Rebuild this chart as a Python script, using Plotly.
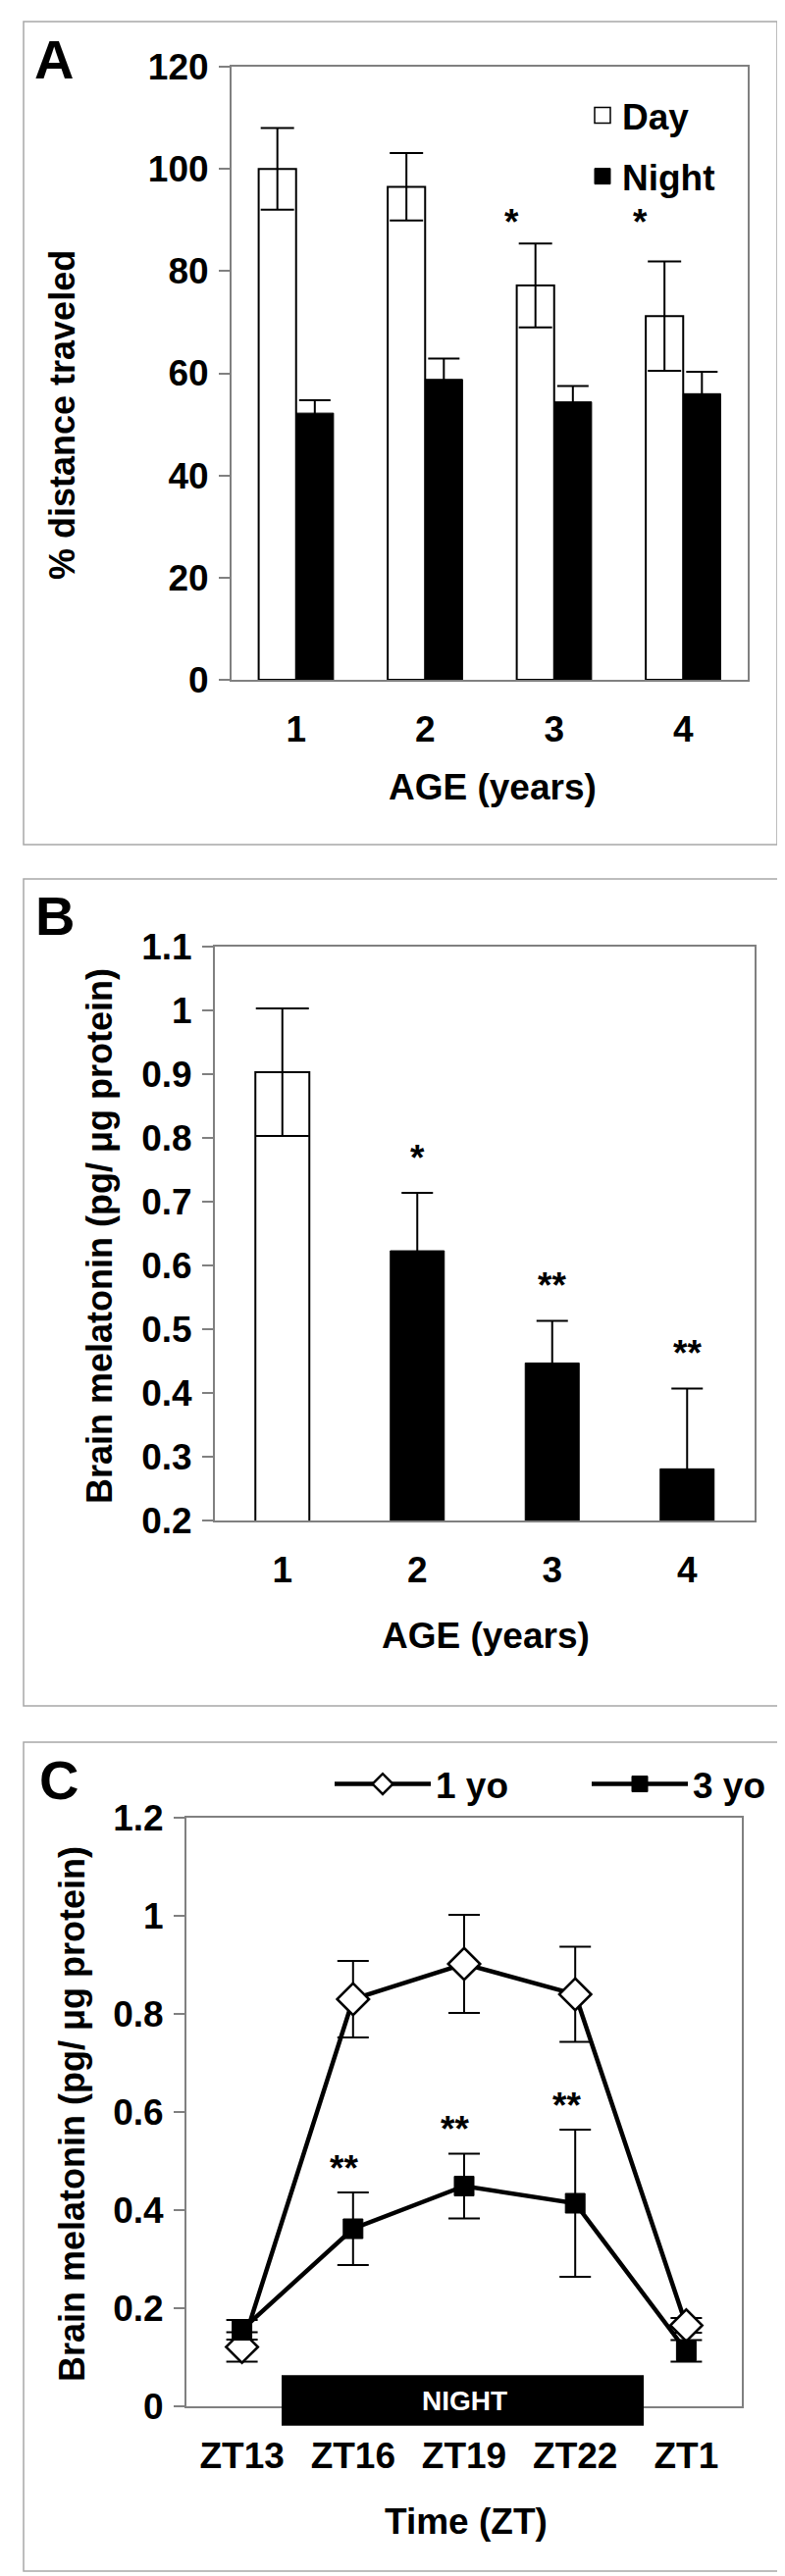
import plotly.graph_objects as go

# ---------------- data ----------------
# Panel A: % distance traveled by age
age_years = [1, 2, 3, 4]
day_dist = [100.0, 96.5, 77.2, 71.2]
day_err = [8.0, 6.6, 8.2, 10.7]
night_dist = [52.2, 58.8, 54.4, 56.0]
night_err = [2.5, 4.1, 3.1, 4.3]
day_sig = ["", "", "*", "*"]

# Panel B: brain melatonin by age
mel_age = [1, 2, 3, 4]
mel_vals = [0.903, 0.623, 0.447, 0.281]
mel_err = [0.100, 0.091, 0.066, 0.126]
mel_sig = ["", "*", "**", "**"]

# Panel C: brain melatonin across night (ZT)
zt_labels = ["ZT13", "ZT16", "ZT19", "ZT22", "ZT1"]
yo1_vals = [0.121, 0.830, 0.902, 0.840, 0.165]
yo1_err = [0.030, 0.078, 0.100, 0.097, 0.015]
yo3_vals = [0.156, 0.362, 0.449, 0.414, 0.113]
yo3_err = [0.020, 0.074, 0.066, 0.150, 0.022]
yo3_sig = ["", "**", "**", "**", ""]

# ---------------- layout helpers ----------------
W, H = 800, 2626
FONT = "Liberation Sans, Arial, Helvetica, sans-serif"


def fx(p):
    return p / W


def fy(p):
    return 1 - p / H


fig = go.Figure()

# ---------- Panel A ----------
fig.add_trace(go.Bar(
    x=age_years, y=day_dist, name="Day", showlegend=False,
    marker=dict(color="white", line=dict(color="black", width=2)),
    width=0.29, offset=-0.29,
    error_y=dict(type="data", array=day_err, color="black", thickness=2, width=17),
    xaxis="x", yaxis="y"))
fig.add_trace(go.Bar(
    x=age_years, y=night_dist, name="Night", showlegend=False,
    marker=dict(color="black", line=dict(color="black", width=1)),
    width=0.29, offset=0.0,
    error_y=dict(type="data", array=night_err, color="black", thickness=2, width=16),
    xaxis="x", yaxis="y"))
# legend entries for panel A (square swatches, no plotted marks)
fig.add_trace(go.Scatter(
    x=[None], y=[None], name="Day", mode="markers", legend="legend", legendgroup="day",
    marker=dict(symbol="square", size=16, color="white", line=dict(color="black", width=1.5)),
    xaxis="x", yaxis="y"))
fig.add_trace(go.Scatter(
    x=[None], y=[None], name="Night", mode="markers", legend="legend", legendgroup="night",
    marker=dict(symbol="square", size=16, color="black", line=dict(color="black", width=1)),
    xaxis="x", yaxis="y"))

# ---------- Panel B ----------
fig.add_trace(go.Bar(
    x=mel_age[:1], y=mel_vals[:1], showlegend=False,
    marker=dict(color="white", line=dict(color="black", width=2)),
    width=0.4, offset=-0.2,
    error_y=dict(type="data", array=mel_err[:1], color="black", thickness=2, width=27),
    xaxis="x2", yaxis="y2"))
fig.add_trace(go.Bar(
    x=mel_age[1:], y=mel_vals[1:], showlegend=False,
    marker=dict(color="black", line=dict(color="black", width=1)),
    width=0.4, offset=-0.2,
    error_y=dict(type="data", array=mel_err[1:], color="black", thickness=2, width=16),
    xaxis="x2", yaxis="y2"))

# ---------- Panel C ----------
zt_pos = list(range(1, len(zt_labels) + 1))
fig.add_trace(go.Scatter(
    x=zt_pos, y=yo1_vals, name="1 yo", mode="lines+markers", legend="legend2",
    legendwidth=149,
    line=dict(color="black", width=4.5),
    marker=dict(symbol="diamond", size=25, color="white", line=dict(color="black", width=2.5)),
    error_y=dict(type="data", array=yo1_err, color="black", thickness=2, width=16),
    xaxis="x3", yaxis="y3", cliponaxis=False))
fig.add_trace(go.Scatter(
    x=zt_pos, y=yo3_vals, name="3 yo", mode="lines+markers", legend="legend2",
    legendwidth=72,
    line=dict(color="black", width=4.5),
    marker=dict(symbol="square", size=20, color="black", line=dict(color="black", width=1)),
    error_y=dict(type="data", array=yo3_err, color="black", thickness=2, width=16),
    xaxis="x3", yaxis="y3", cliponaxis=False))

# ---------- axes ----------
frame = dict(showline=True, mirror=True, linecolor="#808080", linewidth=2,
             showgrid=False, zeroline=False, fixedrange=True, automargin=False)
ytick = dict(ticks="outside", ticklen=11, tickwidth=1.5, tickcolor="#808080",
             ticklabelstandoff=3,
             tickfont=dict(size=37, family=FONT, weight="bold", color="black"))
xtick = dict(ticks="", ticklabelstandoff=17,
             tickfont=dict(size=37, family=FONT, weight="bold", color="black"))

fig.update_layout(
    xaxis=dict(domain=[fx(228), fx(754)], anchor="y", range=[0.5, 4.5],
               tickvals=age_years, ticktext=[str(a) for a in age_years], **xtick, **frame),
    yaxis=dict(domain=[fy(685), fy(60)], anchor="x", range=[0, 120], dtick=20,
               **ytick, **frame),
    xaxis2=dict(domain=[fx(211), fx(761)], anchor="y2", range=[0.5, 4.5],
                tickvals=mel_age, ticktext=[str(a) for a in mel_age], **xtick, **frame),
    yaxis2=dict(domain=[fy(1542), fy(957)], anchor="x2", range=[0.2, 1.1], dtick=0.1,
                tick0=0.2, **ytick, **frame),
    xaxis3=dict(domain=[fx(182), fx(748)], anchor="y3", range=[0.5, 5.5],
                tickvals=zt_pos, ticktext=zt_labels, **xtick, **frame),
    yaxis3=dict(domain=[fy(2445), fy(1845)], anchor="x3", range=[0, 1.2], dtick=0.2,
                **ytick, **frame),
)

# ---------- legends ----------
fig.update_layout(
    legend=dict(x=fx(586), y=fy(79), xanchor="left", yanchor="top",
                bgcolor="rgba(0,0,0,0)", itemwidth=30, tracegroupgap=11,
                traceorder="grouped",
                font=dict(size=37, family=FONT, weight="bold", color="black")),
    legend2=dict(x=fx(328), y=fy(1780), xanchor="left", yanchor="top",
                 orientation="h", bgcolor="rgba(0,0,0,0)", itemwidth=98,
                 font=dict(size=37, family=FONT, weight="bold", color="black")),
)

# ---------- panel frames ----------
shapes = []
for (x0, y0, x1, y1) in [(16, 14, 784, 853), (16, 888, 785, 1731), (16, 1768, 788, 2613)]:
    shapes.append(dict(type="rect", xref="paper", yref="paper",
                       x0=fx(x0), x1=fx(x1), y0=fy(y1), y1=fy(y0),
                       line=dict(color="#a8a8a8", width=1.5), fillcolor="rgba(0,0,0,0)",
                       layer="below"))
# NIGHT bar spanning ZT16..ZT22 region
shapes.append(dict(type="rect", xref="x3", yref="y3 domain",
                   x0=1.357, x1=4.617, y0=-0.033, y1=0.053,
                   fillcolor="black", line=dict(color="black", width=0), layer="above"))

ann = []


def txt(text, x, y, size=37, xref="paper", yref="paper", angle=0, color="black", **kw):
    ann.append(dict(text=text, x=x, y=y, xref=xref, yref=yref, showarrow=False,
                    textangle=angle, xanchor="center", yanchor="middle",
                    font=dict(size=size, family=FONT, weight="bold", color=color), **kw))


# panel letters
txt("A", fx(47), fy(52), size=56)
txt("B", fx(48), fy(925), size=56)
txt("C", fx(52), fy(1807), size=56)

# axis titles
txt("% distance traveled", fx(56), fy(415), size=36, angle=-90)
txt("AGE (years)", fx(494), fy(794))
txt("Brain melatonin (pg/ μg protein)", fx(93), fy(1252), size=36, angle=-90)
txt("AGE (years)", fx(487), fy(1659))
txt("Brain melatonin (pg/ μg protein)", fx(65), fy(2147), size=36, angle=-90)
txt("Time (ZT)", fx(467), fy(2562))

# NIGHT label
txt("NIGHT", 3.0, 0.01, size=28, xref="x3", yref="y3 domain", color="white")

# significance marks
for a, s in zip(age_years, day_sig):
    if s:
        txt(s, a - 0.33, 89.5, xref="x", yref="y")
for a, v, e, s in zip(mel_age, mel_vals, mel_err, mel_sig):
    if s:
        txt(s, a, v + e + 0.055, xref="x2", yref="y2")
for p, v, e, s in zip(zt_pos, yo3_vals, yo3_err, yo3_sig):
    if s:
        txt(s, p - 0.08, v + e + 0.05, xref="x3", yref="y3")

fig.update_layout(
    width=W, height=H, margin=dict(l=0, r=0, t=0, b=0, autoexpand=False),
    paper_bgcolor="white", plot_bgcolor="white",
    font=dict(family=FONT, size=36, color="black", weight="bold"),
    shapes=shapes, annotations=ann, showlegend=True,
)

fig.write_html("out.html")
